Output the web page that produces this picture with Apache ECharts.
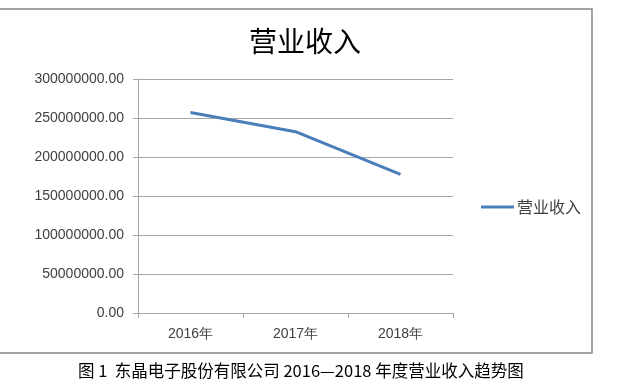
<!DOCTYPE html>
<html>
<head>
<meta charset="utf-8">
<script src="https://cdn.jsdelivr.net/npm/echarts@6/dist/echarts.min.js"></script>
<style>html,body{margin:0;padding:0;background:#fff;}#c{width:624px;height:379px;}</style>
</head>
<body>
<div id="c"></div>
<script>
var categories = ['2016年', '2017年', '2018年'];
var revenue = [257000000, 232500000, 177800000];
var seriesName = '营业收入';
var chartTitle = '营业收入';
var caption = '图 1  东晶电子股份有限公司 2016—2018 年度营业收入趋势图';

var chart = echarts.init(document.getElementById('c'));
chart.setOption({
  animation: false,
  backgroundColor: '#fff',
  title: {
    text: chartTitle,
    left: 244, top: 22,
    textStyle: {fontFamily: 'Noto Sans CJK SC', fontSize: 28, fontWeight: 'normal', color: '#000'}
  },
  legend: {
    left: 476, top: 194,
    icon: 'rect',
    itemWidth: 33, itemHeight: 3, itemGap: 4,
    textStyle: {fontFamily: 'Noto Sans CJK SC', fontSize: 16, color: '#404040', padding: [0, 0, 0, -2]},
    data: [seriesName]
  },
  grid: {left: 138, right: 171, top: 79, bottom: 66},
  xAxis: {
    type: 'category',
    data: categories,
    boundaryGap: true,
    axisLine: {lineStyle: {color: '#a6a6a6', width: 1}},
    axisTick: {show: true, length: 5, lineStyle: {color: '#a6a6a6'}},
    axisLabel: {fontFamily: 'Liberation Sans', fontSize: 14, color: '#404040', margin: 14}
  },
  yAxis: {
    type: 'value',
    min: 0, max: 300000000, interval: 50000000,
    axisLine: {show: true, lineStyle: {color: '#a6a6a6', width: 1}},
    axisTick: {show: true, length: 5, lineStyle: {color: '#a6a6a6'}},
    splitLine: {show: true, lineStyle: {color: '#a6a6a6', width: 1}},
    axisLabel: {
      fontFamily: 'Liberation Sans', fontSize: 14, color: '#404040', margin: 14,
      formatter: function (v) { return v.toFixed(2); }
    }
  },
  series: [{
    name: seriesName,
    type: 'line',
    data: revenue,
    symbol: 'none',
    lineStyle: {color: '#4a7ebb', width: 3},
    itemStyle: {color: '#4a7ebb'}
  }],
  graphic: [
    {type: 'rect', silent: true, shape: {x: -5, y: 9, width: 597, height: 344},
     style: {fill: 'none', stroke: '#868686', lineWidth: 1.5}},
    {type: 'text', left: 78, top: 362,
     style: {text: caption, font: '16.5px "Noto Sans CJK SC"', fill: '#000'}}
  ]
});
</script>
</body>
</html>
